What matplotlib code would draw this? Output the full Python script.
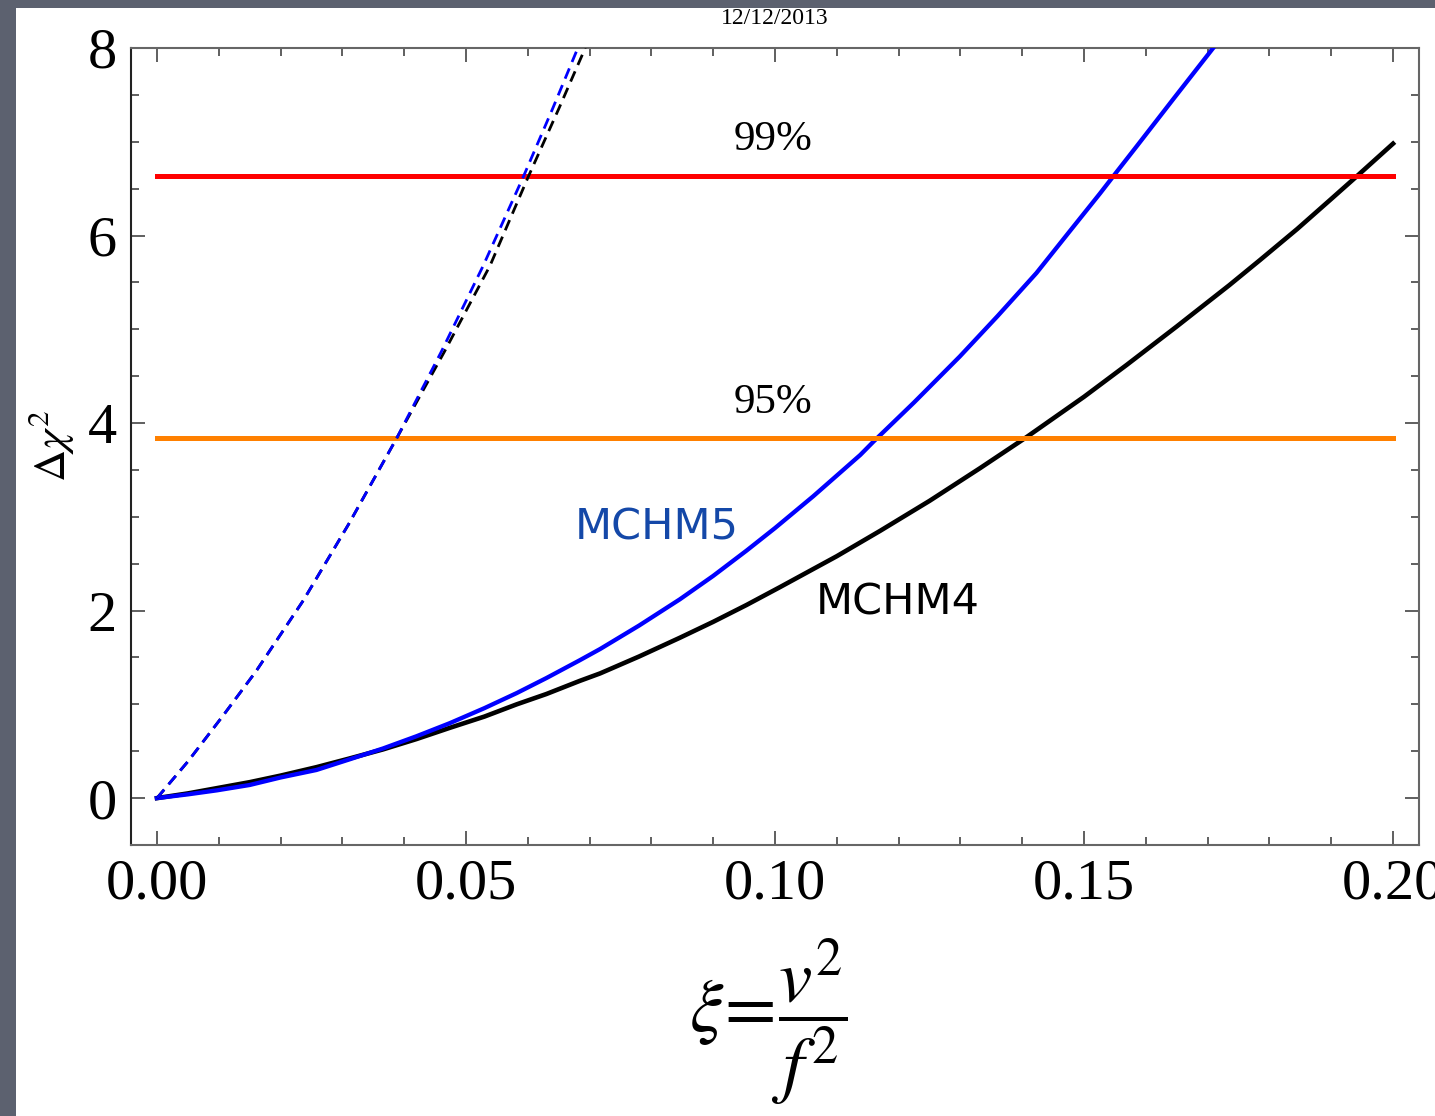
import matplotlib.pyplot as plt
from matplotlib.patches import Rectangle
import numpy as np

plt.rcParams['font.family'] = ['Liberation Serif', 'DejaVu Serif']
plt.rcParams['mathtext.fontset'] = 'stix'

# Delta chi^2 vs xi for the two composite Higgs models
xi_mchm5 = [0, 0.005, 0.0097, 0.015, 0.02, 0.0258, 0.031, 0.0366, 0.042, 0.0474, 0.053,
            0.0582, 0.063, 0.0684, 0.0717, 0.078, 0.0846, 0.09, 0.0954, 0.1, 0.1062, 0.11,
            0.1138, 0.1159, 0.1225, 0.1299, 0.136, 0.1423, 0.1475, 0.1526, 0.1553, 0.1585,
            0.1645, 0.1709]
chi_mchm5 = [0, 0.04, 0.083, 0.14, 0.22, 0.30, 0.41, 0.53, 0.66, 0.80, 0.96,
             1.12, 1.28, 1.47, 1.59, 1.84, 2.12, 2.37, 2.64, 2.88, 3.22, 3.44,
             3.66, 3.80, 4.22, 4.71, 5.14, 5.60, 6.03, 6.45, 6.68, 6.95,
             7.46, 8.0]

xi_mchm4 = [0, 0.005, 0.01, 0.015, 0.02, 0.0258, 0.031, 0.0366, 0.042, 0.0474, 0.053,
            0.0582, 0.063, 0.0684, 0.0717, 0.078, 0.0846, 0.09, 0.0954, 0.1008, 0.11,
            0.117, 0.125, 0.1332, 0.1407, 0.15, 0.1569, 0.165, 0.1677, 0.1735, 0.1785,
            0.1845, 0.19, 0.1941, 0.2]
chi_mchm4 = [0, 0.05, 0.11, 0.17, 0.24, 0.33, 0.42, 0.52, 0.63, 0.75, 0.87,
             1.00, 1.11, 1.25, 1.33, 1.51, 1.71, 1.88, 2.06, 2.25, 2.58,
             2.85, 3.17, 3.52, 3.85, 4.28, 4.62, 5.03, 5.17, 5.47, 5.74,
             6.07, 6.39, 6.63, 6.98]

# dashed curves
xi_mchm5_d = [0, 0.005, 0.0107, 0.016, 0.0237, 0.031, 0.0388, 0.046, 0.0528, 0.0593,
              0.064, 0.0681]
chi_mchm5_d = [0, 0.39, 0.88, 1.35, 2.11, 2.92, 3.84, 4.76, 5.68, 6.63,
               7.35, 8.0]
xi_mchm4_d = [0, 0.005, 0.0107, 0.016, 0.0237, 0.031, 0.0388, 0.0465, 0.0539, 0.0601,
              0.065, 0.0693]
chi_mchm4_d = [0, 0.39, 0.88, 1.35, 2.11, 2.92, 3.84, 4.76, 5.68, 6.63,
               7.35, 8.0]

cl99 = 6.63
cl95 = 3.84

fig = plt.figure(figsize=[14.35, 11.16], dpi=100, facecolor='#5c616f')
fig.patches.append(Rectangle((16/1435, 0), 1 - 16/1435, 1 - 8/1116,
                             transform=fig.transFigure, facecolor='white',
                             edgecolor='none', zorder=-10))

ax = fig.add_axes([131/1435, 1 - 845/1116, (1419 - 131)/1435, (845 - 48)/1116])
ax.set_zorder(1)

ax.plot([0, 0.2], [cl99, cl99], color='#ff0000', lw=3.6, zorder=4)
ax.plot([0, 0.2], [cl95, cl95], color='#ff8000', lw=3.6, zorder=4)

ax.plot(xi_mchm4, chi_mchm4, color='black', lw=3.3, zorder=2)
ax.plot(xi_mchm5, chi_mchm5, color='#0000ff', lw=3.1, zorder=3)

ax.plot(xi_mchm4_d, chi_mchm4_d, color='black', lw=2, ls=(0, (4, 2.5)), zorder=5)
ax.plot(xi_mchm5_d, chi_mchm5_d, color='#0000ff', lw=2, ls=(0, (4, 2.5)), zorder=5)

ax.text(0.0997, 7.02, '99%', fontsize=31, ha='center', va='center')
ax.text(0.0997, 4.22, '95%', fontsize=31, ha='center', va='center')
ax.text(0.0809, 2.89, 'MCHM5', fontsize=31, color='#1448a8', ha='center', va='center',
        family='DejaVu Sans')
ax.text(0.1199, 2.09, 'MCHM4', fontsize=31, color='black', ha='center', va='center',
        family='DejaVu Sans')

ax.set_xlim(-0.0042, 0.2042)
ax.set_ylim(-0.5, 8)
ax.set_xticks([0, 0.05, 0.10, 0.15, 0.20])
ax.set_xticklabels(['0.00', '0.05', '0.10', '0.15', '0.20'])
ax.set_yticks([0, 2, 4, 6, 8])
ax.set_xticks(np.arange(0, 0.2001, 0.01), minor=True)
ax.set_yticks(np.arange(0, 8.01, 0.5), minor=True)
ax.tick_params(which='both', direction='in', top=True, right=True, labelsize=42,
               color='#444444', width=1.2)
ax.tick_params(which='major', length=10, pad=10)
ax.tick_params(which='minor', length=6)
for s in ax.spines.values():
    s.set_color('#666666')
    s.set_linewidth(1.5)
ax.spines['left'].set_color('#222222')

ax.set_ylabel(r'$\Delta\chi^2$', fontsize=32)
ax.yaxis.set_label_coords(-0.043, 0.50)
fig.text(768/1435, 1 - 1022/1116, r'$\xi\!=\!\dfrac{v^2}{f^2}$', fontsize=54,
         ha='center', va='center')
fig.text(775/1435, 1 - 18/1116, '12/12/2013', fontsize=17, ha='center', va='center')

plt.savefig('out.png', dpi=100, facecolor=fig.get_facecolor())
